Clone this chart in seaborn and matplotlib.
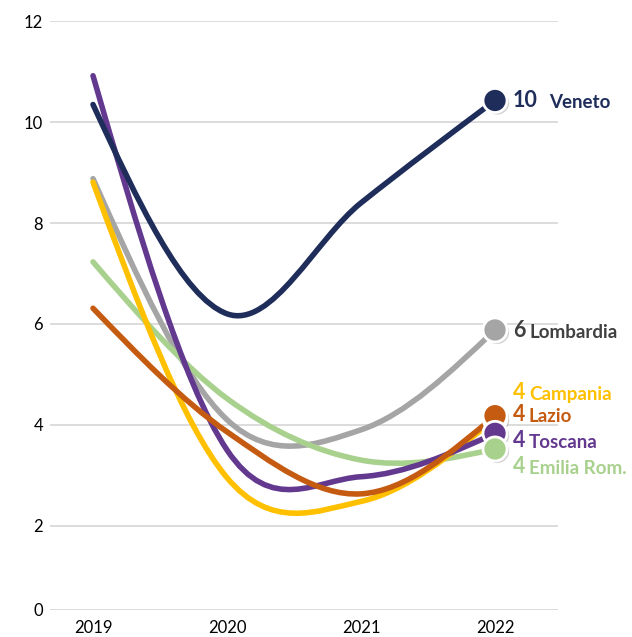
import numpy as np
import pandas as pd
import matplotlib
matplotlib.use("Agg")
import matplotlib.pyplot as plt
import matplotlib.patheffects as pe
from matplotlib.path import Path
from matplotlib.patches import PathPatch
import seaborn as sns

# --- data ---
years = ["2019", "2020", "2021", "2022"]
veneto = [10.35, 6.2, 8.4, 10.43]
lombardia = [8.88, 4.1, 3.9, 5.88]
campania = [8.81, 2.95, 2.48, 4.12]
lazio = [6.31, 3.86, 2.63, 4.18]
toscana = [10.92, 3.5, 2.97, 3.83]
emilia = [7.23, 4.52, 3.3, 3.52]

regions = ["Lombardia", "Emilia Rom.", "Campania", "Toscana", "Lazio", "Veneto"]
series = {
    "Veneto": veneto,
    "Lombardia": lombardia,
    "Campania": campania,
    "Lazio": lazio,
    "Toscana": toscana,
    "Emilia Rom.": emilia,
}
end_labels = {"Veneto": "10", "Lombardia": "6", "Campania": "4",
              "Lazio": "4", "Toscana": "4", "Emilia Rom.": "4"}

# --- styling ---
line_colors = {
    "Veneto": "#1F2D5B",
    "Lombardia": "#A5A5A5",
    "Campania": "#FFC000",
    "Lazio": "#C55A11",
    "Toscana": "#63398F",
    "Emilia Rom.": "#A9D18E",
}
text_colors = dict(line_colors, Lombardia="#404040")
# label offsets from the 2022 marker (points): (dx, dy, gap before name)
label_layout = {
    "Veneto": (13, -5, 8),
    "Lombardia": (13, -5, 2.5),
    "Campania": (13, 14.5, 2.5),
    "Lazio": (13, -3.5, 2.5),
    "Toscana": (13, -10, 2.5),
    "Emilia Rom.": (13, -17, 2.5),
}

sns.set_theme(style="whitegrid")
plt.rcParams["font.family"] = ["Lato", "DejaVu Sans"]


def smooth_path(xs, ys):
    """Excel-like smoothed line: cubic Bezier segments through the points."""
    pts = np.column_stack([xs, ys]).astype(float)
    n = len(pts)
    ctrl = []
    for i in range(n - 1):
        p0 = pts[i - 1] if i > 0 else None
        p1, p2 = pts[i], pts[i + 1]
        p3 = pts[i + 2] if i + 2 < n else None
        c1 = p1 + (p2 - p0) / 6 if p0 is not None else None
        c2 = p2 - (p3 - p1) / 6 if p3 is not None else None
        ctrl.append([c1, c2])
    # end segments: aim the free handle half-way to the other handle
    for i, (c1, c2) in enumerate(ctrl):
        if c1 is None:
            c1 = pts[i] + ((c2 if c2 is not None else pts[i + 1]) - pts[i]) / 2
        if c2 is None:
            c2 = pts[i + 1] + (c1 - pts[i + 1]) / 2
        ctrl[i] = [c1, c2]
    verts = [pts[0]]
    codes = [Path.MOVETO]
    for i, (c1, c2) in enumerate(ctrl):
        verts += [c1, c2, pts[i + 1]]
        codes += [Path.CURVE4] * 3
    return Path(verts, codes)


# the original value axis squeezes the 0-2 band a little
def fwd(v):
    v = np.asarray(v, dtype=float)
    return np.where(v >= 1, v, 1 - (1 - v) * 0.673)


def inv(u):
    u = np.asarray(u, dtype=float)
    return np.where(u >= 1, u, 1 - (1 - u) / 0.673)


fig = plt.figure(figsize=(6.32, 6.37), dpi=100)
ax = fig.add_axes([50 / 632, 27 / 637, 508 / 632, 588.7 / 637])
ax.set_yscale("function", functions=(fwd, inv))

xpos = np.arange(len(years))
for z, name in enumerate(regions):
    patch = PathPatch(smooth_path(xpos, series[name]), facecolor="none",
                      edgecolor=line_colors[name], lw=4,
                      capstyle="round", joinstyle="round", zorder=2 + z * 0.1)
    ax.add_patch(patch)

# end markers, drawn bottom to top as in the original
marker_order = ["Campania", "Lazio", "Toscana", "Emilia Rom.", "Lombardia", "Veneto"]
ends = pd.DataFrame({
    "region": marker_order,
    "x": [xpos[-1]] * len(marker_order),
    "value": [series[r][-1] for r in marker_order],
})
sns.scatterplot(data=ends, x="x", y="value", hue="region", palette=line_colors,
                s=300, edgecolor="white", linewidth=2, legend=False, ax=ax,
                zorder=5,
                path_effects=[pe.SimplePatchShadow(offset=(1.5, -1.5),
                                                   shadow_rgbFace="#7f7f7f",
                                                   alpha=0.35),
                              pe.Normal()])

for name, (dx, dy, gap) in label_layout.items():
    num = ax.annotate(end_labels[name], xy=(xpos[-1], series[name][-1]),
                      xytext=(dx, dy), textcoords="offset points",
                      ha="left", va="baseline", fontsize=15.5,
                      fontweight="bold", color=text_colors[name], zorder=6)
    ax.annotate(name, xy=(1, 0), xycoords=num, xytext=(gap, 0),
                textcoords="offset points", ha="left", va="bottom",
                fontsize=13.5, fontweight="bold", color=text_colors[name],
                zorder=6)

ax.set_xlim(-0.321, 3.47)
ax.set_ylim(0, 12)
ax.set_xticks(xpos)
ax.set_xticklabels(years)
ax.set_yticks(np.arange(0, 13, 2))
ax.set_yticklabels([str(v) for v in range(0, 13, 2)])
ax.set_xlabel("")
ax.set_ylabel("")
ax.minorticks_off()
ax.tick_params(axis="both", length=0, labelsize=12, labelcolor="black")
ax.tick_params(axis="x", pad=7)
ax.tick_params(axis="y", pad=5)
ax.grid(axis="y", color="#D9D9D9", lw=1.3)
ax.grid(axis="x", visible=False)
ax.set_facecolor("white")
sns.despine(ax=ax, left=True, bottom=True)
for t in ax.texts:
    t.set_clip_on(False)

fig.savefig("out.png", dpi=100, facecolor="white")
